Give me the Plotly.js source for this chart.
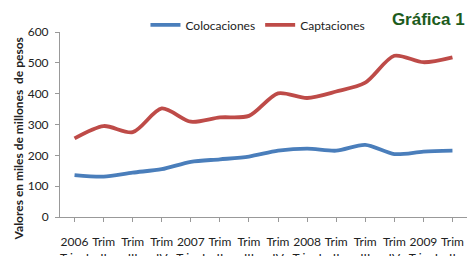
<!DOCTYPE html>
<html>
<head>
<meta charset="utf-8">
<script src="https://cdn.plot.ly/plotly-3.0.1.min.js"></script>
<style>html,body{margin:0;padding:0;background:#fff;}#chart{width:467px;height:256px;}</style>
</head>
<body>
<div id="chart"></div>
<script>
const categories = ["2006<br>Trim I","Trim<br>II","Trim<br>III","Trim<br>IV","2007<br>Trim I","Trim<br>II","Trim<br>III","Trim<br>IV","2008<br>Trim I","Trim<br>II","Trim<br>III","Trim<br>IV","2009<br>Trim I","Trim<br>II"];
const colocaciones = [136,131,144,155,179,187,196,215,222,215,234,204,212,215];
const captaciones = [255,295,275,352,309,323,328,401,386,407,436,523,502,518];
const yTicks = [0,100,200,300,400,500,600];

const xIdx = categories.map((_, i) => i);
const traces = [
  {x: xIdx, y: colocaciones, name: "Colocaciones", type: "scatter", mode: "lines",
   line: {color: "#4a7ebb", width: 3.8, shape: "spline", smoothing: 0.8}},
  {x: xIdx, y: captaciones, name: "Captaciones", type: "scatter", mode: "lines",
   line: {color: "#be4b48", width: 3.8, shape: "spline", smoothing: 0.8}}
];
const layout = {
  width: 467, height: 256,
  margin: {l: 60, r: 0, t: 32, b: 39},
  paper_bgcolor: "#fff", plot_bgcolor: "#fff",
  font: {family: "Lato, 'Open Sans', sans-serif", size: 12, color: "#222"},
  showlegend: true,
  legend: {orientation: "h", x: 0.21, xanchor: "left", y: 1.038, yanchor: "middle",
           font: {size: 12, color: "#222"}, itemwidth: 30, tracegroupgap: 0},
  title: {text: "<b>Gráfica 1</b>", x: 0.995, xanchor: "right", y: 0.95, yanchor: "top",
          font: {family: "Liberation Sans, Arial, sans-serif", size: 17, color: "#1d5c1d"}},
  xaxis: {
    range: [-0.5, 13.5], tickmode: "array", tickvals: xIdx, ticktext: categories,
    showline: true, linecolor: "#999", linewidth: 1, ticks: "outside", ticklen: 4,
    tickcolor: "#999", showgrid: false, zeroline: false, fixedrange: true,
    tickfont: {size: 12, color: "#222"}, tickangle: 0, ticklabelstandoff: 10
  },
  yaxis: {
    range: [0, 600], tickmode: "array", tickvals: yTicks,
    showline: true, linecolor: "#999", linewidth: 1, ticks: "outside", ticklen: 4,
    tickcolor: "#999", showgrid: false, zeroline: false, fixedrange: true,
    tickfont: {size: 12, color: "#222"}, ticklabelstandoff: 4
  },
  annotations: [{
    text: "<b>Valores en miles de millones  de pesos</b>", textangle: -90,
    xref: "paper", yref: "paper", x: -0.103, y: 0.42, xanchor: "center", yanchor: "middle",
    showarrow: false, font: {size: 12, color: "#222"}
  }]
};
Plotly.newPlot("chart", traces, layout, {displayModeBar: false, staticPlot: true});
</script>
</body>
</html>
